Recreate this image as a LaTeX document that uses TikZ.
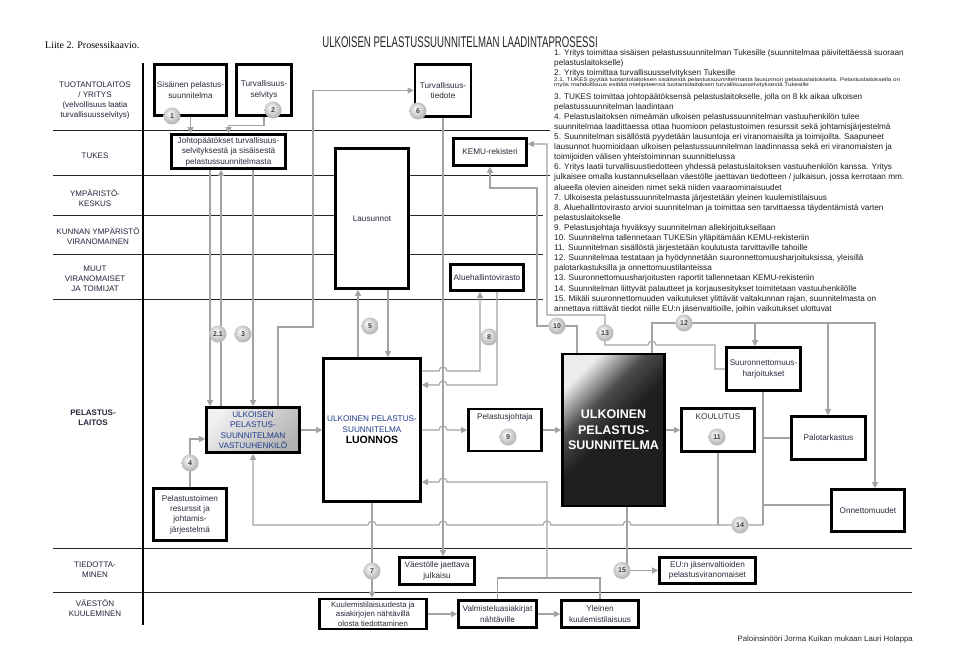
\documentclass[tikz,border=0pt]{standalone}
\usepackage{fontspec}
\setmainfont{Liberation Sans}
\newfontfamily\liiteserif{Liberation Serif}
\newfontfamily\titlenarrow[FakeStretch=0.62]{Liberation Sans}
\newfontfamily\widetiny[FakeStretch=1.2]{Liberation Sans}
\usetikzlibrary{positioning,arrows.meta,calc}
\definecolor{laneInk}{HTML}{23233A}
\definecolor{boxInk}{HTML}{2A2A3C}
\definecolor{connGray}{HTML}{A3A3A3}
\definecolor{planBlue}{HTML}{1E3C8C}
\pgfdeclareverticalshading{planshade}{100bp}{color(0bp)=(black!88); color(50bp)=(black!88); color(62bp)=(black!70); color(75bp)=(gray!15); color(100bp)=(gray!15)}
\pgfdeclareradialshading{stepball}{\pgfpoint{-7bp}{8bp}}{color(0bp)=(white); color(10bp)=(gray!22); color(25bp)=(gray!55); color(50bp)=(gray!55)}
% little bridge where a connector crosses a vertical one
\newcommand{\hopR}[2]{-- ({#1-4},#2) arc[start angle=180,end angle=360,radius=4]}
\newcommand{\hopL}[2]{-- ({#1+4},#2) arc[start angle=0,end angle=-180,radius=4]}
\tikzset{
  laneline/.style={draw=black!85, line width=0.8pt},
  lanelbl/.style={align=center, inner sep=0pt, font=\fontsize{8}{10.2}\selectfont, text=laneInk},
  plainbox/.style={draw=black, line width=2.6pt, fill=white, align=center, inner sep=1pt, font=\fontsize{8.2}{10.4}\selectfont, text=boxInk},
  boxtxt/.style={align=center, inner sep=0pt, font=\fontsize{8.2}{10.4}\selectfont, text=boxInk},
  conn/.style={draw=connGray, line width=1.1pt},
  carr/.style={conn, -{Triangle[length=6pt,width=6pt]}},
  numball/.style={circle, shade, shading=stepball, minimum size=17pt, inner sep=0pt, font=\fontsize{7}{8}\selectfont\bfseries, text=black!75},
  listtxt/.style={align=left, inner sep=0pt, anchor=north west, font=\fontsize{8.2}{10.1}\selectfont, text=black!88}
}
\begin{document}
\begin{tikzpicture}[x=1pt, y=-1pt]
\useasboundingbox (0,0) rectangle (964,647);
\fill[white] (0,0) rectangle (964,647);

\node[font=\titlenarrow\fontsize{15.5}{18}\selectfont, text=black!85] (title) at (460,42) {ULKOISEN PELASTUSSUUNNITELMAN LAADINTAPROSESSI};
\node[font=\liiteserif\fontsize{10}{12}\selectfont, anchor=base west, inner sep=0pt] (liite) at (45,49) {Liite 2. Prosessikaavio.};

% swimlanes
\foreach \yy/\xe in {130/550,175/550,215/543,254/543,299/543,548/912,592/912}
  \draw[laneline] (53,\yy) -- (\xe,\yy);
\draw[line width=2.6pt] (143,63) -- (143,625);

\node[lanelbl] (laneTuo) at (95,100.5) {TUOTANTOLAITOS\\/ YRITYS\\(velvollisuus laatia\\turvallisuusselvitys)};
\node[lanelbl] (laneTukes) at (95,156) {TUKES};
\node[lanelbl] (laneYmp) at (95,198) {YMPÄRISTÖ-\\KESKUS};
\node[lanelbl] (laneKunta) at (98,236) {KUNNAN YMPÄRISTÖ\\VIRANOMAINEN};
\node[lanelbl] (laneMuut) at (95,279) {MUUT\\VIRANOMAISET\\JA TOIMIJAT};
\node[lanelbl, font=\fontsize{8}{10.2}\selectfont\bfseries] (lanePel) at (93,418) {PELASTUS-\\LAITOS};
\node[lanelbl] (laneTied) at (95,569.5) {TIEDOTTA-\\MINEN};
\node[lanelbl] (laneVae) at (95,608) {VÄESTÖN\\KUULEMINEN};

% boxes
\node[plainbox, minimum width=72pt, minimum height=51pt] (sis) at (190.5,90) {Sisäinen pelastus-\\suunnitelma};
\node[plainbox, minimum width=55pt, minimum height=51pt] (tur) at (264,90) {Turvallisuus-\\selvitys};
\node[plainbox, minimum width=114pt, minimum height=34pt] (joh) at (228.5,151.5) {Johtopäätökset turvallisuus-\\selvityksestä ja sisäisestä\\pelastussuunnitelmasta};
\node[plainbox, minimum width=73pt, minimum height=140pt] (lau) at (372,218.5) {Lausunnot};
\node[plainbox, minimum width=56pt, minimum height=52pt] (ttd) at (443,90.5) {Turvallisuus-\\tiedote};
\node[plainbox, minimum width=73pt, minimum height=27pt] (kemu) at (490,152) {KEMU-rekisteri};
\node[plainbox, minimum width=73pt, minimum height=26pt] (alu) at (487,277.5) {Aluehallintovirasto};
\node[plainbox, minimum width=93pt, minimum height=45pt, top color=gray!12, bottom color=gray!60, shading angle=45, text=planBlue] (vas) at (253,430) {ULKOISEN\\PELASTUS-\\SUUNNITELMAN\\VASTUUHENKILÖ};
\node[plainbox, minimum width=97pt, minimum height=143pt, inner sep=0pt, text=planBlue] (luo) at (372,430) {ULKOINEN PELASTUS-\\SUUNNITELMA\\[1pt]{\fontsize{10.5}{12}\selectfont\bfseries\color{black}LUONNOS}};
\node[plainbox, minimum width=73pt, minimum height=42pt] (pelj) at (505,430) {};
\node[boxtxt, below=6pt of pelj.north] (peljLbl) {Pelastusjohtaja};
\node[plainbox, minimum width=102pt, minimum height=152pt, shade, shading=planshade, shading angle=45, text=white, font=\fontsize{12.5}{15.5}\selectfont\bfseries] (ulk) at (613.5,430) {ULKOINEN\\PELASTUS-\\SUUNNITELMA};
\node[plainbox, minimum width=73pt, minimum height=43pt] (kou) at (718,430) {};
\node[boxtxt, below=6pt of kou.north] (kouLbl) {KOULUTUS};
\node[plainbox, minimum width=74pt, minimum height=43pt] (suu) at (763.5,369) {Suuronnettomuus-\\harjoitukset};
\node[plainbox, minimum width=74pt, minimum height=43pt] (pal) at (828.5,438) {Palotarkastus};
\node[plainbox, minimum width=73pt, minimum height=42pt] (onn) at (868,510.5) {Onnettomuudet};
\node[plainbox, minimum width=73pt, minimum height=52pt] (pel) at (190,514.5) {Pelastustoimen\\resurssit ja\\johtamis-\\järjestelmä};
\node[plainbox, minimum width=75pt, minimum height=27pt] (vae) at (437,571) {Väestölle jaettava\\julkaisu};
\node[plainbox, minimum width=96pt, minimum height=26pt] (eu) at (707.5,570.5) {EU:n jäsenvaltioiden\\pelastusviranomaiset};
\node[plainbox, minimum width=107pt, minimum height=30pt, inner sep=0pt, font=\fontsize{7.8}{9.4}\selectfont] (kuu) at (373,614) {Kuulemistilaisuudesta ja\\asiakirjojen nähtävillä\\olosta tiedottaminen};
\node[plainbox, minimum width=78pt, minimum height=27pt] (val) at (497.5,614) {Valmisteluasiakirjat\\nähtäville};
\node[plainbox, minimum width=77pt, minimum height=27pt] (yle) at (600,614) {Yleinen\\kuulemistilaisuus};

% junctions
\coordinate (j12a) at (755,323);
\coordinate (j12b) at (828,323);
\coordinate (j14) at (763,525);
\coordinate (jKuu) at (547,578);

% connectors
\draw[carr] (sis.south) -- (sis.south |- joh.north);
\draw[carr] (tur.south) -- ++(0,9) -| (joh.north);
\draw[carr] (210,0 |- joh.south) -- (210,0 |- vas.north);
\draw[carr] (221,0 |- vas.north) -- (221,0 |- joh.south);
\draw[carr] (vas.north |- joh.south) -- (vas.north);
\draw[carr] (278,0 |- vas.north) -- (278,327) -- (313,327) |- (ttd.west);
\draw[carr] (ttd.south) -- (ttd.south |- vae.north);
\draw[carr] (358,0 |- luo.north) -- (358,0 |- lau.south);
\draw[carr] (388,0 |- lau.south) -- (388,0 |- luo.north);
\draw[carr] (luo.east |- 0,371) \hopR{443}{371} -- (480,371) -- (480,0 |- alu.south);
\draw[carr] (497,0 |- alu.south) -- (497,385) \hopL{443}{385} -- (luo.east |- 0,385);
\draw[carr] (vas.east) -- (luo.west);
\draw[carr] (luo.east) \hopR{443}{430} -- (pelj.west);
\draw[carr] (pelj.east) -- (ulk.west);
\draw[carr] (ulk.east) -- (kou.west);
\draw[carr] (pel.north) |- (vas.west |- 0,439);
\draw[carr] (luo.south) -- (luo.south |- kuu.north);
\draw[carr] (577,0 |- ulk.north) -- (577,326) -- (537,326) -- (537,188) -| (kemu.south);
\draw[carr] (suu.west) -- (715,0 |- suu.west) -- (715,345) \hopL{652}{345} -- (605,345) -- (605,315) -- (547,315) |- (kemu.east |- 0,144);
\draw[carr] (652,0 |- ulk.north) |- (875,323) -- (875,0 |- onn.north);
\draw[carr] (j12a) -- (j12a |- suu.north);
\draw[carr] (j12b) -- (j12b |- pal.north);
\draw[conn] (j14 |- suu.south) -- (j14);
\draw[conn] (pal.west) -- (j14 |- pal.west);
\draw[conn] (onn.west |- 0,505) -- (j14 |- 0,505);
\draw[conn] (kou.south) -- (kou.south |- j14);
\draw[carr] (j14) \hopL{627}{525} \hopL{547}{525} \hopL{443}{525} \hopL{372}{525} -| (vas.south);
\draw[carr] (627,0 |- ulk.south) |- (eu.west);
\draw[conn] (val.north) |- (yle.north |- jKuu) -- (yle.north);
\draw[carr] (jKuu) -- (547,482) \hopL{443}{482} -- (luo.east |- 0,482);
\draw[carr] (kuu.east) -- (val.west);
\draw[carr] (val.east) -- (yle.west);

% numbered steps
\node[numball] (n1) at (172,116) {1};
\node[numball] (n2) at (273,110) {2};
\node[numball] (n21) at (218,334) {2.1};
\node[numball] (n3) at (243,334) {3};
\node[numball] (n4) at (190,463) {4};
\node[numball] (n5) at (370,326) {5};
\node[numball] (n6) at (418,111) {6};
\node[numball] (n7) at (372,571) {7};
\node[numball] (n8) at (489,337) {8};
\node[numball] (n9) at (508,437) {9};
\node[numball] (n10) at (557,326) {10};
\node[numball] (n11) at (717,437) {11};
\node[numball] (n12) at (684,323) {12};
\node[numball] (n13) at (605,333) {13};
\node[numball] (n14) at (740,525) {14};
\node[numball] (n15) at (622,570.5) {15};

% explanations
\node[listtxt] (list1) at (554,49) {1. Yritys toimittaa sisäisen pelastussuunnitelman Tukesille (suunnitelmaa päivitettäessä suoraan\\pelastuslaitokselle)\\2. Yritys toimittaa turvallisuusselvityksen Tukesille};
\node[listtxt, font=\widetiny\fontsize{5.2}{5.4}\selectfont] (list21) at (554,77.5) {2.1. TUKES pyytää tuotantolaitoksen sisäisestä pelastussuunnitelmasta lausunnon pelastuslaitokselta. Pelastuslaitoksella on\\myös mahdollisuus esittää mielipiteensä tuotantolaitoksen turvallisuusselvityksestä Tukesille};
\node[listtxt] (list3) at (554,93) {3. TUKES toimittaa johtopäätöksensä pelastuslaitokselle, jolla on 8 kk aikaa ulkoisen\\pelastussuunnitelman laadintaan\\
4. Pelastuslaitoksen nimeämän ulkoisen pelastussuunnitelman vastuuhenkilön tulee\\suunnitelmaa laadittaessa ottaa huomioon pelastustoimen resurssit sekä johtamisjärjestelmä\\
5. Suunnitelman sisällöstä pyydetään lausuntoja eri viranomaisilta ja toimijoilta. Saapuneet\\lausunnot huomioidaan ulkoisen pelastussuunnitelman laadinnassa sekä eri viranomaisten ja\\toimijoiden välisen yhteistoiminnan suunnittelussa\\
6. Yritys laatii turvallisuustiedotteen yhdessä pelastuslaitoksen vastuuhenkilön kanssa. Yritys\\julkaisee omalla kustannuksellaan väestölle jaettavan tiedotteen / julkaisun, jossa kerrotaan mm.\\alueella olevien aineiden nimet sekä niiden vaaraominaisuudet\\
7. Ulkoisesta pelastussuunnitelmasta järjestetään yleinen kuulemistilaisuus\\
8. Aluehallintovirasto arvioi suunnitelman ja toimittaa sen tarvittaessa täydentämistä varten\\pelastuslaitokselle\\
9. Pelastusjohtaja hyväksyy suunnitelman allekirjoituksellaan\\
10. Suunnitelma tallennetaan TUKESin ylläpitämään KEMU-rekisteriin\\
11. Suunnitelman sisällöstä järjestetään koulutusta tarvittaville tahoille\\
12. Suunnitelmaa testataan ja hyödynnetään suuronnettomuusharjoituksissa, yleisillä\\palotarkastuksilla ja onnettomuustilanteissa\\
13. Suuronnettomuusharjoitusten raportit tallennetaan KEMU-rekisteriin\\
14. Suunnitelman liittyvät palautteet ja korjausesitykset toimitetaan vastuuhenkilölle\\
15. Mikäli suuronnettomuuden vaikutukset ylittävät valtakunnan rajan, suunnitelmasta on\\annettava riittävät tiedot niille EU:n jäsenvaltioille, joihin vaikutukset ulottuvat};

\node[font=\fontsize{7.8}{9}\selectfont, anchor=base east, inner sep=0pt, text=black!85] (credit) at (913,641) {Paloinsinööri Jorma Kuikan mukaan Lauri Holappa};
\end{tikzpicture}
\end{document}
